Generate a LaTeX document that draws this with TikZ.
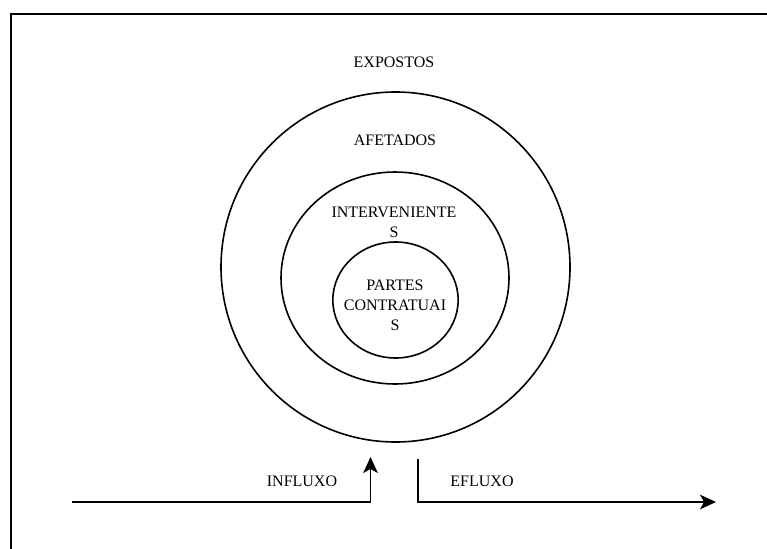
\documentclass[tikz,border=0pt]{standalone}
\usepackage{fontspec}
\setmainfont{Liberation Serif}
\usetikzlibrary{arrows.meta,positioning,shapes.geometric}
\tikzset{
	anel/.style={ellipse, draw=black, line width=1.2pt, inner sep=0pt},
	rotulo/.style={font=\fontsize{12}{15}\selectfont, align=center, inner sep=0pt},
	fluxo/.style={draw=black, line width=1.2pt,
		-{Stealth[length=12pt, width=11pt, inset=3pt]}}
}
\begin{document}
\begin{tikzpicture}[x=0.75pt, y=-0.75pt]
			\useasboundingbox (0,0) rectangle (767,549);
			% moldura
			\draw[line width=1.3pt] (11,549) -- (11,14) -- (767,14);
			
			% aneis
			\node[anel, minimum width=261.75pt, minimum height=262.5pt] (expostos) at (395.5,267) {};
			\node[anel, minimum width=171pt, minimum height=159pt] (afetados) at (395,278) {};
			\node[anel, minimum width=94pt, minimum height=87pt] (partes) at (395.5,300) {};
			
			% rotulos
			\node[rotulo] (texp) at (394,62) {EXPOSTOS};
			\node[rotulo] (tafe) at (395,140) {AFETADOS};
			\node[rotulo] (tint) at (394,222) {INTERVENIENTE\\S};
			\node[rotulo] (tpar) at (395,305) {PARTES\\CONTRATUAI\\S};
			\node[rotulo] (tinf) at (302,481) {INFLUXO};
			\node[rotulo] (tefl) at (482,481) {EFLUXO};
			
			% fluxos
			\coordinate (inA) at (72,502);
			\coordinate (inB) at (370.5,502);
			\coordinate (inC) at (370.5,457);
			\coordinate (efA) at (418,459);
			\coordinate (efB) at (418,502);
			\coordinate (efC) at (716,502);
			\draw[fluxo] (inA) -- (inB) -- (inC);
			\draw[fluxo] (efA) -- (efB) -- (efC);
		\end{tikzpicture}
\end{document}
